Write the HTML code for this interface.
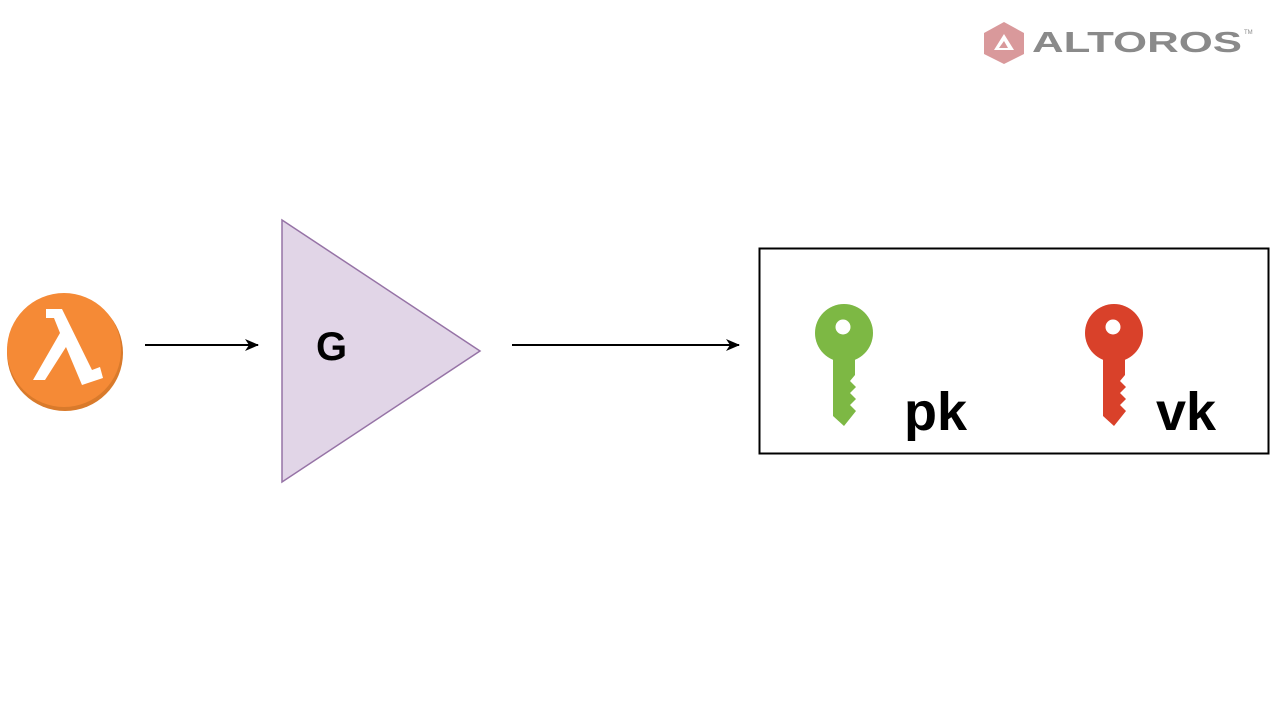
<!DOCTYPE html>
<html><head><meta charset="utf-8"><style>
html,body{margin:0;padding:0;background:#fff;}
body{width:1280px;height:720px;overflow:hidden;position:relative;font-family:"Liberation Sans",sans-serif;}
</style></head><body>
<svg width="1280" height="720" viewBox="0 0 1280 720" xmlns="http://www.w3.org/2000/svg" style="position:absolute;left:0;top:0">
<defs>
<marker id="ah" markerWidth="14" markerHeight="12" refX="13" refY="6" orient="auto" markerUnits="userSpaceOnUse">
<path d="M0,0 L14,6 L0,12 L4,6 Z" fill="#000"/>
</marker>
</defs>
<polygon points="1004,22 1024,33 1024,54 1004,64 984,54 984,33" fill="#d9999b"/>
<path d="M994,50 L1004,34 L1014,50 Z M999,48 L1004,41 L1008,48 Z" fill="#fff" fill-rule="evenodd"/>
<text x="1032" y="52" font-size="29" font-weight="bold" fill="#8a8a8a" font-family="Liberation Sans, sans-serif" textLength="210" lengthAdjust="spacingAndGlyphs">ALTOROS</text>
<text x="1244" y="34" font-size="6" fill="#8a8a8a">TM</text>
<ellipse cx="65" cy="353" rx="58" ry="58" fill="#d97a2b"/>
<circle cx="64" cy="350" r="57" fill="#f58a36"/>
<polygon points="46,309 62,309 92,370 100,367 103,378 82,385 66,347 45,380 33,380 60,333 54,318 46,318" fill="#fff"/>
<line x1="145" y1="345" x2="258" y2="345" stroke="#000" stroke-width="2" marker-end="url(#ah)"/>
<line x1="512" y1="345" x2="739" y2="345" stroke="#000" stroke-width="2" marker-end="url(#ah)"/>
<polygon points="282,220 480,351 282,482" fill="#e1d5e7" stroke="#9673a6" stroke-width="1.5"/>
<text x="316" y="360" font-size="40" font-weight="bold" fill="#000">G</text>
<rect x="759.5" y="248.5" width="509" height="205" fill="#fff" stroke="#000" stroke-width="2"/>
<g fill="#7db844">
<circle cx="844" cy="333" r="29"/>
<polygon points="833,350 855,350 855,375 850,381 856,387 850,393 856,399 850,405 856,411 844,426 833,416"/>
</g>
<circle cx="843" cy="327" r="7.5" fill="#fff"/>
<g fill="#d9412a">
<circle cx="1114" cy="333" r="29"/>
<polygon points="1103,350 1125,350 1125,375 1120,381 1126,387 1120,393 1126,399 1120,405 1126,411 1114,426 1103,416"/>
</g>
<circle cx="1113" cy="327" r="7.5" fill="#fff"/>
<text x="904" y="430" font-size="54" font-weight="bold" fill="#000">pk</text>
<text x="1156" y="430" font-size="54" font-weight="bold" fill="#000">vk</text>
</svg>
</body></html>
